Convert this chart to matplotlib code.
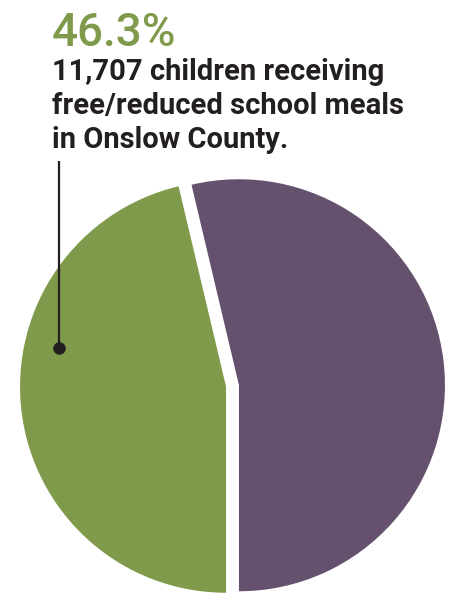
import matplotlib
matplotlib.use('Agg')
import matplotlib.pyplot as plt

# data
labels = ['free/reduced meals', 'other']
shares = [46.3, 53.7]
colors = ['#7f9a4b', '#65516e']
headline = '46.3%'
caption = ['11,707 children receiving',
           'free/reduced school meals',
           'in Onslow County.']

W, H = 451, 599
fig = plt.figure(figsize=(W / 100, H / 100), dpi=100)
ax = fig.add_axes([0, 0, 1, 1])

# pie, drawn in pixel coordinates (y from bottom)
r = 206
ax.pie(shares, colors=colors, startangle=-90, counterclock=False,
       center=(232.5, H - 386), radius=r, explode=[6.5, 6.5],
       wedgeprops=dict(linewidth=0), frame=True)
ax.set_xlim(0, W)
ax.set_ylim(0, H)
ax.set_aspect('equal')
ax.axis('off')

# text
ax.text(52, H - 46, headline, fontsize=33, color=colors[0],
        family='Roboto', fontweight='medium', va='baseline')
for i, line in enumerate(caption):
    ax.text(52, H - 80 - 34 * i, line, fontsize=21, color='#231f20',
            family='Roboto', fontweight='bold', va='baseline')

# leader line with dot
ax.plot([59, 59], [H - 161, H - 348], color='#231f20', lw=1.6,
        solid_capstyle='butt')
ax.plot(59, H - 348, 'o', color='#231f20', ms=8)

fig.savefig('out.png', dpi=100)
